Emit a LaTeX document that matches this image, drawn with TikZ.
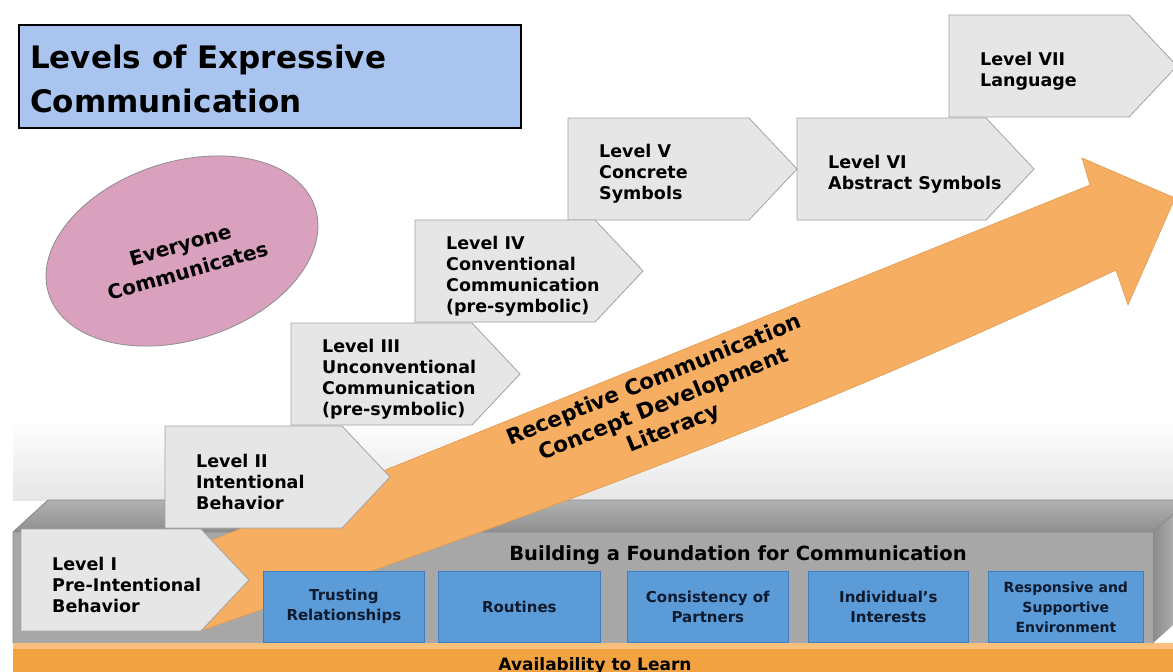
\documentclass[tikz,border=0pt]{standalone}
\usepackage{fontspec}
\setmainfont{DejaVu Sans}
\usetikzlibrary{shapes.geometric}

\definecolor{titleblue}{HTML}{A9C4EE}
\definecolor{ellpink}{HTML}{D9A1BE}
\definecolor{ellline}{HTML}{8E8E8E}
\definecolor{chevgray}{HTML}{E6E6E6}
\definecolor{chevline}{HTML}{A3A3A3}
\definecolor{arroworange}{HTML}{F6AE63}
\definecolor{arrowline}{HTML}{E09A4E}
\definecolor{boxblue}{HTML}{5A9BD8}
\definecolor{boxline}{HTML}{3F7FBF}
\definecolor{boxtext}{HTML}{0E1A2E}
\definecolor{barorange}{HTML}{F2A240}
\definecolor{barlight}{HTML}{F8C07C}
\definecolor{facefront}{HTML}{A7A7A7}
\definecolor{facetopa}{HTML}{B2B2B2}
\definecolor{facetopb}{HTML}{8E8E8E}
\definecolor{sidedark}{HTML}{8C8C8C}
\definecolor{sidelight}{HTML}{C4C4C4}
\definecolor{edgegray}{HTML}{8A8A8A}
\definecolor{haze}{HTML}{E6E6E6}

% one level of the staircase: name, left x, top y, width, text
\newcommand{\levelbox}[5]{%
  \path[chev] (#2,#3) -- ++({#4-48},0) -- ++(48,51) -- ++(-48,51) -- ++({-(#4-48)},0) -- cycle;
  \node[levtext, anchor=west] (#1) at ({#2+31},{#3+56}) {#5};
}

\begin{document}
\begin{tikzpicture}[x=1pt, y=-1pt,
  titletext/.style={font=\bfseries\fontsize{31}{43}\selectfont, inner sep=0pt},
  elltext/.style={font=\bfseries\fontsize{20}{27}\selectfont, align=center, inner sep=0pt},
  levtext/.style={font=\bfseries\fontsize{17.5}{21}\selectfont, align=left, inner sep=0pt},
  chev/.style={fill=chevgray, draw=chevline, line width=0.8pt},
  bluebox/.style={fill=boxblue, draw=boxline, line width=0.7pt, anchor=north west,
    minimum height=71pt, inner sep=0pt, align=center, text=boxtext,
    font=\bfseries\fontsize{15}{20}\selectfont},
  foundtext/.style={font=\bfseries\fontsize{19.5}{24}\selectfont, inner sep=0pt},
  bartext/.style={font=\bfseries\fontsize{17}{20}\selectfont, inner sep=0pt},
  arrowtext/.style={font=\bfseries\fontsize{21.5}{26}\selectfont, align=center, inner sep=0pt}
]
\useasboundingbox (0,0) rectangle (1173,672);
\clip (0,0) rectangle (1173,672);
\fill[white] (0,0) rectangle (1173,672);
\shade[top color=white, bottom color=haze] (13,420) rectangle (1173,500);

% title panel
\draw[line width=2.5pt, fill=titleblue] (19,25) rectangle (521,128);
\node[titletext, anchor=base west] (title1) at (30,68) {Levels of Expressive};
\node[titletext, anchor=base west] (title2) at (30,112) {Communication};

% tilted ellipse
\node[ellipse, draw=ellline, fill=ellpink, line width=0.8pt, minimum width=280pt,
      minimum height=178pt, rotate=18, inner sep=0pt] (everyone) at (182,251) {};
\node[elltext, rotate=16] (everyonetext) at (184,258) {Everyone\\Communicates};

% foundation block: top face, front face, right side face
\shade[top color=facetopa, bottom color=facetopb] (48,500) -- (1189,500) -- (1153,532) -- (13,532) -- cycle;
\fill[facefront] (13,532) rectangle (1153,643);
\shade[left color=sidedark, right color=sidelight] (1153,532) -- (1189,500) -- (1189,611) -- (1153,643) -- cycle;
\draw[edgegray, line width=0.8pt] (13,643) -- (13,532) -- (48,500) -- (1189,500);
\draw[edgegray, line width=0.8pt] (13,532) -- (1153,532) -- (1189,500);
\draw[edgegray, line width=0.8pt] (1153,532) -- (1153,643);

% rising arrow
\path[fill=arroworange, draw=arrowline, line width=0.6pt]
  (200,545) -- (1090,185) -- (1082,158) -- (1175,198) -- (1128,305) -- (1116,270)
  .. controls (800,420) and (520,520) .. (203,630) -- cycle;
\node[arrowtext, rotate=22] (receptive) at (664,405)
  {Receptive Communication\\Concept Development\\Literacy};

% foundation building blocks
\node[foundtext, anchor=base] (foundation) at (738,560) {Building a Foundation for Communication};
\node[bluebox, minimum width=161pt] (trust) at (263,571) {Trusting\\Relationships};
\node[bluebox, minimum width=162pt] (routine) at (438,571) {Routines};
\node[bluebox, minimum width=161pt] (consist) at (627,571) {Consistency of\\Partners};
\node[bluebox, minimum width=160pt] (interest) at (808,571) {Individual’s\\Interests};
\node[bluebox, minimum width=155pt, font=\bfseries\fontsize{14}{20}\selectfont] (environ) at (988,571)
  {Responsive and\\Supportive\\Environment};

% base bar
\fill[barorange] (13,643) rectangle (1173,672);
\fill[barlight] (13,643) rectangle (1173,649);
\node[bartext, anchor=base] (avail) at (595,670) {Availability to Learn};

% staircase of levels
\levelbox{lvseven}{949}{15}{228}{Level VII\\Language}
\levelbox{lvsix}{797}{118}{237}{Level VI\\Abstract Symbols}
\levelbox{lvfive}{568}{118}{229}{Level V\\Concrete\\Symbols}
\levelbox{lvfour}{415}{220}{228}{Level IV\\Conventional\\Communication\\(pre-symbolic)}
\levelbox{lvthree}{291}{323}{229}{Level III\\Unconventional\\Communication\\(pre-symbolic)}
\levelbox{lvtwo}{165}{426}{225}{Level II\\Intentional\\Behavior}
\levelbox{lvone}{21}{529}{228}{Level I\\Pre-Intentional\\Behavior}
\end{tikzpicture}
\end{document}
